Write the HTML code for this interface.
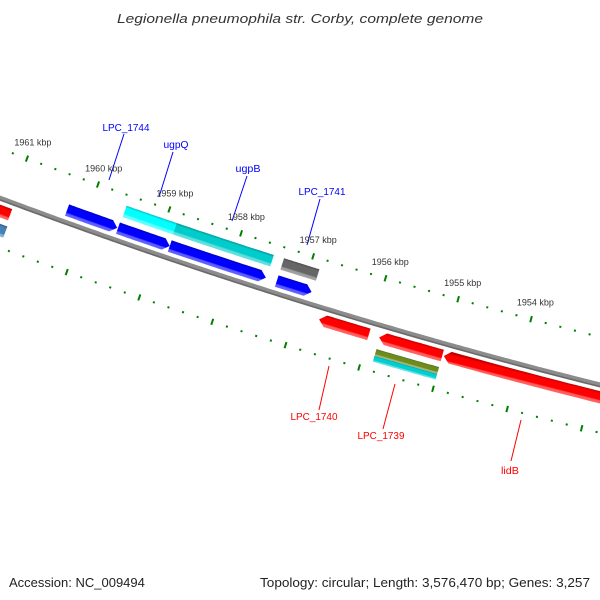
<!DOCTYPE html>
<html><head><meta charset="utf-8"><style>
html,body{margin:0;padding:0;background:#fff;}
svg{display:block;font-family:"Liberation Sans",sans-serif;}
</style></head><body>
<svg id="map" width="600" height="600" viewBox="0 0 600 600" xmlns="http://www.w3.org/2000/svg">
<rect x="0" y="0" width="600" height="600" fill="#fff"/>
<defs id="defs"></defs>
<g id="ticks"></g>
<g id="backbone"></g>
<g id="features"></g>
<g id="leaders">
<g fill="#0000ff" font-size="10.5" text-anchor="middle">
<line x1="124" y1="134" x2="109" y2="180" stroke="#0000ff"/>
<text x="126" y="131" textLength="47" lengthAdjust="spacingAndGlyphs">LPC_1744</text>
<line x1="173" y1="152" x2="159" y2="197" stroke="#0000ff"/>
<text x="176" y="148" textLength="25" lengthAdjust="spacingAndGlyphs">ugpQ</text>
<line x1="247" y1="176" x2="232" y2="221" stroke="#0000ff"/>
<text x="248" y="172" textLength="25" lengthAdjust="spacingAndGlyphs">ugpB</text>
<line x1="320" y1="199" x2="307" y2="245" stroke="#0000ff"/>
<text x="322" y="195" textLength="47" lengthAdjust="spacingAndGlyphs">LPC_1741</text>
</g>
<g fill="#ff0000" font-size="10.5" text-anchor="middle">
<line x1="329" y1="366" x2="319" y2="410" stroke="#ff0000"/>
<text x="314" y="420" textLength="47" lengthAdjust="spacingAndGlyphs">LPC_1740</text>
<line x1="395" y1="384" x2="383" y2="429" stroke="#ff0000"/>
<text x="381" y="439" textLength="47" lengthAdjust="spacingAndGlyphs">LPC_1739</text>
<line x1="521" y1="420" x2="511" y2="461" stroke="#ff0000"/>
<text x="510" y="474" textLength="18" lengthAdjust="spacingAndGlyphs">lidB</text>
</g>
</g>
<g id="kbplabels" font-size="9" fill="#333" text-anchor="middle"></g>
<text x="300" y="23" text-anchor="middle" font-size="13" font-style="italic" fill="#333" textLength="366" lengthAdjust="spacingAndGlyphs">Legionella pneumophila str. Corby, complete genome</text>
<text x="9" y="587" font-size="13" fill="#222">Accession: NC_009494</text>
<text x="260" y="587" font-size="13" fill="#222" textLength="330" lengthAdjust="spacingAndGlyphs">Topology: circular; Length: 3,576,470 bp; Genes: 3,257</text>
</svg>
<script>
// feature data (kbp)
const featHi    = [1960.27, 1959.56, 1958.84, 1957.36, 1959.55, 1958.85, 1957.36, 1962.5, 1956.68, 1955.86, 1954.98, 1962.5, 1955.85, 1955.85];
const featLo    = [1959.57, 1958.84, 1957.51, 1956.88, 1958.85, 1957.50, 1956.87, 1960.95, 1956.00, 1955.00, 1951.5, 1960.93, 1955.00, 1955.00];
const featRow   = ['ui','ui','ui','ui','uo','uo','uo','li','li','li','li','lo','loa','lob'];
const featColor = ['#0000ff','#0000ff','#0000ff','#0000ff','#00ffff','#00cccc','#666666','#ff0000','#ff0000','#ff0000','#ff0000','#4682b4','#6e8c1e','#00ced1'];
const featArrow = ['lo','lo','lo','lo','none','none','none','none','hi','hi','hi','none','none','none'];
const featName  = ['LPC_1744','ugpQ-a','ugpQ-b','LPC_1741b','ugpQ','ugpB','LPC_1741','left-red','LPC_1740','LPC_1739r','lidB','left-steel','LPC_1739a','LPC_1739b'];
const tickLabels = [1961,1960,1959,1958,1957,1956,1955,1954];

const CX=1930.8, CY=-4947, R0=5495.5;
const rows={ui:[-18,-6],uo:[-36,-24],li:[6,18],lo:[24,36],loa:[24,31],lob:[31,37]};
function pos(kbp,d){const a=(110.45+(kbp-1961)*0.795)*Math.PI/180;const r=R0+d;return [CX+r*Math.cos(a),CY+r*Math.sin(a)];}
const NS='http://www.w3.org/2000/svg';
function mk(t,a){const e=document.createElementNS(NS,t);for(const k in a)e.setAttribute(k,a[k]);return e;}
function shade(hex,f){const n=parseInt(hex.slice(1),16);let r=n>>16,g=(n>>8)&255,b=n&255;
 if(f<1){r*=f;g*=f;b*=f;}else{r=r+(255-r)*(f-1);g=g+(255-g)*(f-1);b=b+(255-b)*(f-1);}
 return 'rgb('+Math.round(r)+','+Math.round(g)+','+Math.round(b)+')';}

// backbone
const bb=document.getElementById('backbone');
let pts=[];for(let k=1963;k>=1951;k-=0.05){pts.push(pos(k,0).map(v=>v.toFixed(1)).join(','));}
const bl=mk('polyline',{points:pts.join(' '),fill:'none',stroke:'#8c8c8c','stroke-width':5});


bb.appendChild(bl);
let pts2=[];for(let k=1963;k>=1951;k-=0.05){pts2.push(pos(k,1.6).map(v=>v.toFixed(1)).join(','));}
const bl2=mk('polyline',{points:pts2.join(' '),fill:'none',stroke:'#6a6a6a','stroke-width':1.5});


bb.appendChild(bl2);

// ticks
const tg=document.getElementById('ticks');
for(let i=19620;i>=19510;i-=2){const k=i/10;const major=(i%10===0);
 [-46.5,46.5].forEach(d=>{
  const h=major?3.2:1;const p1=pos(k,d-h),p2=pos(k,d+h);
  const l=mk('line',{x1:p1[0],y1:p1[1],x2:p2[0],y2:p2[1],stroke:'#008000','stroke-width':2});
  
  
  tg.appendChild(l);});}
const kl=document.getElementById('kbplabels');
tickLabels.forEach(k=>{const p=pos(k,-63.5);const t=mk('text',{x:p[0].toFixed(1),y:(p[1]+3).toFixed(1)});t.textContent=k+' kbp';
 
 
 kl.appendChild(t);});

// features
const defs=document.getElementById('defs');const fg=document.getElementById('features');
featHi.forEach((hi,i)=>{const lo=featLo[i];const [d0,d1]=rows[featRow[i]];const dm=(d0+d1)/2;
 const ah=0.085;let a=hi,b=lo;if(featArrow[i]==='lo')b=lo+ah;if(featArrow[i]==='hi')a=hi-ah;
 const P=[];const n=30;
 for(let j=0;j<=n;j++)P.push(pos(a+(b-a)*j/n,d0));
 if(featArrow[i]==='lo')P.push(pos(lo,dm));
 for(let j=n;j>=0;j--)P.push(pos(a+(b-a)*j/n,d1));
 if(featArrow[i]==='hi')P.push(pos(hi,dm));
 const gid='g'+i;const m=(hi+lo)/2;const g0=pos(m,d0),g1=pos(m,d1);
 const gr=mk('linearGradient',{id:gid,gradientUnits:'userSpaceOnUse',x1:g0[0],y1:g0[1],x2:g1[0],y2:g1[1]});
 const c=featColor[i];
 [[0,shade(c,0.75)],[0.18,c],[0.68,c],[0.78,shade(c,1.35)],[1,shade(c,1.4)]].forEach(s=>gr.appendChild(mk('stop',{offset:s[0],'stop-color':s[1]})));
 defs.appendChild(gr);
 const pg=mk('polygon',{points:P.map(p=>p[0].toFixed(1)+','+p[1].toFixed(1)).join(' '),fill:'url(#'+gid+')'});
 
 
 fg.appendChild(pg);});
</script>
</body></html>
